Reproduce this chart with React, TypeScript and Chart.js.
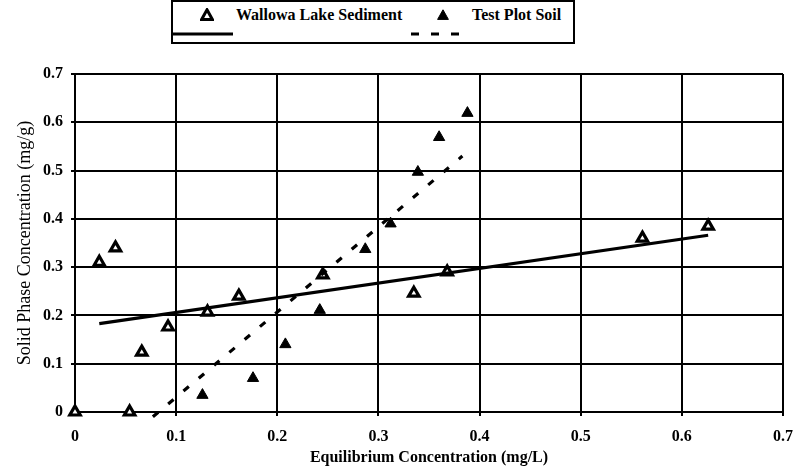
import React, { useEffect, useRef } from "react";
import { Chart, registerables } from "chart.js";

Chart.register(...registerables);

// ---- data ----
const seriesNames = ["Wallowa Lake Sediment", "Test Plot Soil"];

const wallowaX = [0, 0.024, 0.04, 0.054, 0.066, 0.092, 0.131, 0.162, 0.245, 0.335, 0.368, 0.561, 0.626];
const wallowaY = [0, 0.31, 0.34, 0, 0.124, 0.176, 0.207, 0.24, 0.284, 0.246, 0.29, 0.36, 0.385];

const testPlotX = [0.126, 0.176, 0.208, 0.242, 0.287, 0.312, 0.339, 0.36, 0.388];
const testPlotY = [0.035, 0.07, 0.14, 0.211, 0.337, 0.39, 0.497, 0.569, 0.619];

// fitted trend lines (end points)
const wallowaTrendX = [0.024, 0.626];
const wallowaTrendY = [0.183, 0.366];
const testPlotTrendX = [0.077, 0.383];
const testPlotTrendY = [-0.01, 0.53];

const xTickLabels = ["0", "0.1", "0.2", "0.3", "0.4", "0.5", "0.6", "0.7"];
const yTickLabels = ["0", "0.1", "0.2", "0.3", "0.4", "0.5", "0.6", "0.7"];

const xTitle = "Equilibrium Concentration (mg/L)";
const yTitle = "Solid Phase Concentration (mg/g)";

const FONT = '"Liberation Serif", "Times New Roman", serif';

const toPoints = (xs: number[], ys: number[]) => xs.map((x, i) => ({ x, y: ys[i] }));

function TriangleIcon({ filled }: { filled: boolean }) {
  return (
    <svg width="14" height="13" viewBox="0 0 14 13" style={{ display: "block" }}>
      <polygon
        points="7,1.8 12.4,11.4 1.6,11.4"
        fill={filled ? "#000" : "#fff"}
        stroke="#000"
        strokeWidth={filled ? 1 : 3}
        strokeLinejoin="miter"
      />
    </svg>
  );
}

export default function App() {
  const canvasRef = useRef<HTMLCanvasElement | null>(null);

  useEffect(() => {
    const canvas = canvasRef.current;
    if (!canvas) return;
    const chart = new Chart(canvas, {
      type: "scatter",
      data: {
        datasets: [
          {
            label: "Wallowa trend",
            data: toPoints(wallowaTrendX, wallowaTrendY),
            showLine: true,
            borderColor: "#000",
            borderWidth: 3.2,
            pointRadius: 0,
            fill: false,
            order: 0,
            clip: false as any,
          },
          {
            label: "Test plot trend",
            data: toPoints(testPlotTrendX, testPlotTrendY),
            showLine: true,
            borderColor: "#000",
            borderWidth: 3.2,
            borderDash: [7, 13],
            pointRadius: 0,
            fill: false,
            order: 0,
            clip: false as any,
          },
          {
            label: seriesNames[0],
            data: toPoints(wallowaX, wallowaY),
            pointStyle: "triangle",
            pointRadius: 6,
            backgroundColor: "#fff",
            borderColor: "#000",
            borderWidth: 3.2,
            order: 1,
            clip: false as any,
          },
          {
            label: seriesNames[1],
            data: toPoints(testPlotX, testPlotY),
            pointStyle: "triangle",
            pointRadius: 6.5,
            backgroundColor: "#000",
            borderColor: "#000",
            borderWidth: 1,
            order: 1,
            clip: false as any,
          },
        ],
      },
      options: {
        animation: false,
        responsive: false,
        maintainAspectRatio: false,
        layout: { padding: { top: 74, right: 16, left: 0, bottom: 0 } },
        plugins: {
          legend: { display: false },
          tooltip: { enabled: false },
        },
        scales: {
          x: {
            type: "linear",
            min: 0,
            max: 0.7,
            afterFit: (s: any) => {
              s.height = 58;
            },
            ticks: {
              stepSize: 0.1,
              autoSkip: false,
              maxRotation: 0,
              color: "#000",
              padding: 11,
              font: { family: FONT, size: 16, weight: "bold" },
              callback: (v: any) => xTickLabels[Math.round(Number(v) * 10)] ?? "",
            },
            grid: { color: "#000", lineWidth: 2, tickLength: 4, drawTicks: true },
            border: { color: "#000", width: 2 },
            title: {
              display: true,
              text: xTitle,
              color: "#000",
              font: { family: FONT, size: 16, weight: "bold" },
              padding: { top: 0, bottom: 3 },
            },
          },
          y: {
            type: "linear",
            min: 0,
            max: 0.7,
            afterFit: (s: any) => {
              s.width = 75;
            },
            ticks: {
              stepSize: 0.1,
              autoSkip: false,
              color: "#000",
              padding: 8,
              font: { family: FONT, size: 16, weight: "bold" },
              callback: (v: any) => yTickLabels[Math.round(Number(v) * 10)] ?? "",
            },
            grid: { color: "#000", lineWidth: 2, tickLength: 4, drawTicks: true },
            border: { color: "#000", width: 2 },
            title: {
              display: true,
              text: yTitle,
              color: "#000",
              font: { family: FONT, size: 18, weight: "normal" },
              padding: { top: 14, bottom: 0 },
            },
          },
        },
      },
    });
    return () => chart.destroy();
  }, []);

  const legendText: React.CSSProperties = {
    position: "absolute",
    fontFamily: FONT,
    fontWeight: "bold",
    fontSize: 16,
    lineHeight: "16px",
    color: "#000",
    whiteSpace: "nowrap",
  };

  return (
    <div
      style={{
        position: "fixed",
        left: 0,
        top: 0,
        width: 804,
        height: 470,
        background: "#fff",
        overflow: "hidden",
      }}
    >
      <canvas ref={canvasRef} width={804} height={470} style={{ display: "block", width: 804, height: 470 }} />
      <div
        style={{
          position: "absolute",
          left: 171,
          top: 0,
          width: 404,
          height: 44,
          border: "2px solid #000",
          background: "#fff",
          boxSizing: "border-box",
        }}
      >
        <div style={{ position: "absolute", left: 27, top: 6 }}>
          <TriangleIcon filled={false} />
        </div>
        <div style={{ ...legendText, left: 63, top: 5 }}>{seriesNames[0]}</div>
        <div style={{ position: "absolute", left: 263, top: 6 }}>
          <TriangleIcon filled={true} />
        </div>
        <div style={{ ...legendText, left: 299, top: 5 }}>{seriesNames[1]}</div>
        <svg width="400" height="14" style={{ position: "absolute", left: 0, top: 25 }}>
          <line x1="0" y1="7" x2="60" y2="7" stroke="#000" strokeWidth="3.2" />
          <line x1="238" y1="7" x2="292" y2="7" stroke="#000" strokeWidth="3.2" strokeDasharray="8 12" />
        </svg>
      </div>
    </div>
  );
}
